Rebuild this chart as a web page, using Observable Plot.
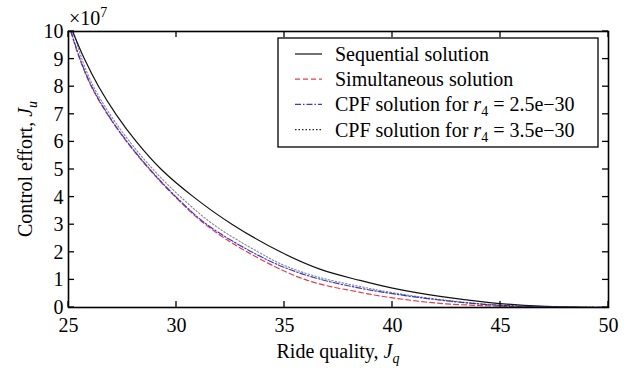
<!DOCTYPE html>
<html><head><meta charset="utf-8">
<script src="https://cdn.jsdelivr.net/npm/d3@7"></script>
<script src="https://cdn.jsdelivr.net/npm/@observablehq/plot@0.6"></script>
<style>body{margin:0;background:#fff} svg{display:block}</style>
</head><body><div id="chart"></div>
<script>
// Ride quality J_q (x) vs control effort J_u (y, in units of 1e7)
const xTicks = [25, 30, 35, 40, 45, 50];
const yTicks = [0, 1, 2, 3, 4, 5, 6, 7, 8, 9, 10];

const seqX = [25.19, 25.74, 26.4, 27.2, 28.15, 29.3, 30.8, 32.6, 34.85, 36.67, 38.5, 40, 42.2, 44.5, 46.85, 50];
const seqY = [10, 9, 8, 7, 6, 5, 4, 3, 2, 1.38, 0.98, 0.7, 0.4, 0.18, 0.05, 0];

const simX = [25.1, 25.52, 26.06, 26.8, 27.7, 28.75, 29.95, 31.35, 33.3, 36.0, 38.5, 40, 42.2, 44.5, 46.85, 50];
const simY = [10, 9, 8, 7, 6, 5, 4, 3, 2, 1, 0.55, 0.35, 0.15, 0.06, 0.02, 0];

const cpf25X = [25.12, 25.54, 26.08, 26.82, 27.72, 28.78, 29.99, 31.42, 33.4, 35.0, 36.67, 38.5, 40, 42.2, 44.5, 46.85, 50];
const cpf25Y = [10, 9, 8, 7, 6, 5, 4, 3, 2.05, 1.45, 1.02, 0.7, 0.5, 0.27, 0.1, 0.03, 0];

const cpf35X = [25.24, 25.62, 26.16, 26.92, 27.84, 28.92, 30.2, 31.72, 33.7, 35.0, 36.67, 38.5, 40, 42.2, 44.5, 46.85, 50];
const cpf35Y = [10, 9, 8, 7, 6, 5, 4, 3, 2.05, 1.52, 1.08, 0.76, 0.54, 0.29, 0.11, 0.03, 0];

const seriesNames = ["Sequential solution", "Simultaneous solution", "CPF solution for r4 = 2.5e−30", "CPF solution for r4 = 3.5e−30"];
const seriesColors = ["#111111", "#e0404a", "#3a3ac8", "#222222"];
const seriesDash = [null, "5,3", "6,2,1.5,2", "1.5,2"];

const toRows = (xs, ys) => xs.map((x, i) => ({x, y: ys[i]}));
const seriesData = [toRows(seqX, seqY), toRows(simX, simY), toRows(cpf25X, cpf25Y), toRows(cpf35X, cpf35Y)];

const font = "'Liberation Serif', 'Times New Roman', serif";

const chart = Plot.plot({
  width: 631, height: 368,
  marginLeft: 68, marginRight: 23, marginTop: 31, marginBottom: 61,
  style: {fontFamily: font, fontSize: "20px", background: "#fff", color: "#000", overflow: "visible"},
  x: {domain: [25, 50]},
  y: {domain: [0, 10]},
  marks: [
    Plot.axisX({ticks: xTicks, tickSize: 0, tickPadding: 10, label: null, fontSize: 20}),
    Plot.axisY({ticks: yTicks, tickSize: 0, tickPadding: 5, label: null, fontSize: 20}),
    ...seriesData.map((d, i) => Plot.line(d, {
      x: "x", y: "y", stroke: seriesColors[i], strokeWidth: i === 3 ? 1.1 : 1.2,
      strokeDasharray: seriesDash[i], strokeOpacity: i === 3 ? 0.55 : 1, curve: "catmull-rom"
    })),
    Plot.frame({stroke: "#000", strokeWidth: 1.6})
  ]
});
document.getElementById("chart").appendChild(chart);

const svg = d3.select(chart);
const sx = chart.scale("x"), sy = chart.scale("y");
const pTop = sy.apply(10), pBottom = sy.apply(0), pLeft = sx.apply(25), pRight = sx.apply(50);
const tk = 6;
const g = svg.append("g").attr("stroke", "#000").attr("stroke-width", 1.3);
xTicks.forEach(v => {
  const X = sx.apply(v);
  g.append("line").attr("x1", X).attr("x2", X).attr("y1", pBottom).attr("y2", pBottom - tk);
  g.append("line").attr("x1", X).attr("x2", X).attr("y1", pTop).attr("y2", pTop + tk);
});
yTicks.forEach(v => {
  const Y = sy.apply(v);
  g.append("line").attr("x1", pLeft).attr("x2", pLeft + tk).attr("y1", Y).attr("y2", Y);
  g.append("line").attr("x1", pRight).attr("x2", pRight - tk).attr("y1", Y).attr("y2", Y);
});

const T = svg.append("g").style("font-family", font).style("font-size", "20px").attr("fill", "#000");
// x10^7 multiplier
const mult = T.append("text").attr("x", pLeft + 1).attr("y", pTop - 6).attr("text-anchor", "start");
mult.append("tspan").text("×10");
mult.append("tspan").style("font-size", "14px").attr("dy", -8).text("7");

// x title
const xt = T.append("text").attr("x", (pLeft + pRight) / 2).attr("y", 358).attr("text-anchor", "middle");
xt.append("tspan").text("Ride quality, ");
xt.append("tspan").attr("font-style", "italic").text("J");
xt.append("tspan").attr("font-style", "italic").style("font-size", "14px").attr("dy", 5).text("q");

// y title
const yt = T.append("text").attr("transform", `translate(32,${(pTop + pBottom) / 2}) rotate(-90)`).attr("text-anchor", "middle");
yt.append("tspan").text("Control effort, ");
yt.append("tspan").attr("font-style", "italic").text("J");
yt.append("tspan").attr("font-style", "italic").style("font-size", "14px").attr("dy", 5).text("u");

// legend
const L = svg.append("g").style("font-family", font).style("font-size", "20px");
L.append("rect").attr("x", 278).attr("y", 38).attr("width", 320).attr("height", 109)
  .attr("fill", "#fff").attr("stroke", "#000").attr("stroke-width", 1.3);
seriesNames.forEach((name, i) => {
  const base = 61 + i * 25.2;
  L.append("line").attr("x1", 295).attr("x2", 322).attr("y1", base - 7).attr("y2", base - 7)
    .attr("stroke", seriesColors[i]).attr("stroke-width", 1.2)
    .attr("stroke-dasharray", seriesDash[i]);
  const t = L.append("text").attr("x", 335).attr("y", base).attr("fill", "#000").attr("text-anchor", "start");
  if (name.includes("r4")) {
    const [pre, post] = name.split("r4");
    t.append("tspan").text(pre);
    t.append("tspan").attr("font-style", "italic").text("r");
    t.append("tspan").style("font-size", "14px").attr("dy", 5).text("4");
    t.append("tspan").attr("dy", -5).text(post);
  } else {
    t.text(name);
  }
});
</script>
</body></html>
